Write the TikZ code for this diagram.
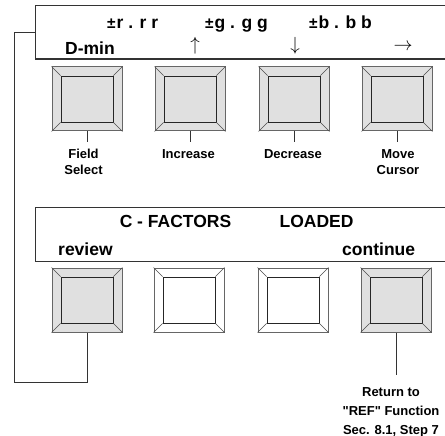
\RequirePackage{fix-cm}
\documentclass[tikz,border=0pt]{standalone}
\usepackage{fontspec}
\setmainfont{Liberation Sans}[Ligatures=TeXOff]
\usetikzlibrary{positioning}
\definecolor{keygray}{HTML}{E0E0E0}
\newcommand{\pmsign}{{\fontsize{15.5}{15.5}\selectfont\bfseries ±}\kern1pt}

\begin{document}
\begin{tikzpicture}[x=1pt, y=-1pt,
    screen/.style={draw=black!80, line width=1.2pt, minimum width=430pt, minimum height=53.5pt, anchor=north west, inner sep=0pt},
    keycap/.style={draw=black!60, line width=1pt, fill=#1, minimum width=70pt, minimum height=64pt, inner sep=0pt},
    keyface/.style={draw=black!85, line width=0.9pt, minimum width=52pt, minimum height=46pt, inner sep=0pt},
    bevel/.style={draw=black!70, line width=0.6pt},
    big/.style={inner sep=0pt, font=\fontsize{17.5}{20}\selectfont\bfseries},
    lbl/.style={inner sep=0pt, align=center, font=\fontsize{13}{16}\selectfont\bfseries},
    glyph/.style={inner sep=0pt, font=\fontsize{19}{19}\selectfont},
    wire/.style={draw=black!80, line width=0.9pt}
]
\clip (0,0) rectangle (445,436);

% display panels
\node[screen] (scrtop) at (35,5) {};
\node[screen] (scrbot) at (35,207) {};

% top display text
\node[big, anchor=base west] (valr) at (107,29) {\pmsign r . r r};
\node[big, anchor=base west] (valg) at (205,29) {\pmsign g . g g};
\node[big, anchor=base west] (valb) at (309,29) {\pmsign b . b b};
\node[big, anchor=base west] (dmin) at (65,55) {D-min};
\node[glyph] (up) at (195,46) {$\uparrow$};
\node[glyph] (down) at (295,46) {$\downarrow$};
\node[glyph] (right) at (403,47) {$\rightarrow$};

% first row of keys
\node[keycap=keygray] (fsel) at (87,99) {};
\node[keycap=keygray] (incr) at (190,99) {};
\node[keycap=keygray] (decr) at (294,99) {};
\node[keycap=keygray] (mcur) at (397,99) {};

\node[lbl, anchor=north] (fsellbl) at (83.5,149) {Field\\Select};
\node[lbl, anchor=base] (incrlbl) at (188.5,158.5) {Increase};
\node[lbl, anchor=base] (decrlbl) at (293,158.5) {Decrease};
\node[lbl, anchor=north] (mcurlbl) at (398,149) {Move\\Cursor};

\draw[wire, shorten >=7pt] (fsel.south) -- (fsel.south |- fsellbl.north);
\draw[wire, shorten >=7pt] (incr.south) -- (incr.south |- incrlbl.north);
\draw[wire, shorten >=7pt] (decr.south) -- (decr.south |- decrlbl.north);
\draw[wire, shorten >=7pt] (mcur.south) -- (mcur.south |- mcurlbl.north);

% bottom display text
\node[big, anchor=base] (cfac) at (175.5,227) {C - FACTORS};
\node[big, anchor=base] (loaded) at (316.5,227) {LOADED};
\node[big, anchor=base west] (revtxt) at (58,255) {review};
\node[big, anchor=base west] (conttxt) at (342,255) {continue};

% second row of keys
\node[keycap=keygray] (rev) at (87,300) {};
\node[keycap=white] (blanka) at (189,300) {};
\node[keycap=white] (blankb) at (293,300) {};
\node[keycap=keygray] (cont) at (396,300) {};

% key faces and bevel corners
\foreach \k in {fsel,incr,decr,mcur,rev,blanka,blankb,cont} {
    \node[keyface] (\k face) at (\k) {};
    \foreach \c in {north west,north east,south west,south east}
        \draw[bevel] (\k.\c) -- (\k face.\c);
}

\node[lbl, anchor=north, font=\fontsize{13}{19}\selectfont\bfseries] (retlbl) at (391,387) {Return to\\"REF" Function\\Sec. 8.1, Step 7};

% review loops back to the top display
\coordinate (loopcorner) at (14,382);
\draw[wire] (rev.south) |- (loopcorner) |- (scrtop.west);
\draw[wire, shorten >=12pt] (cont.south) -- (cont.south |- retlbl.north);
\end{tikzpicture}
\end{document}
